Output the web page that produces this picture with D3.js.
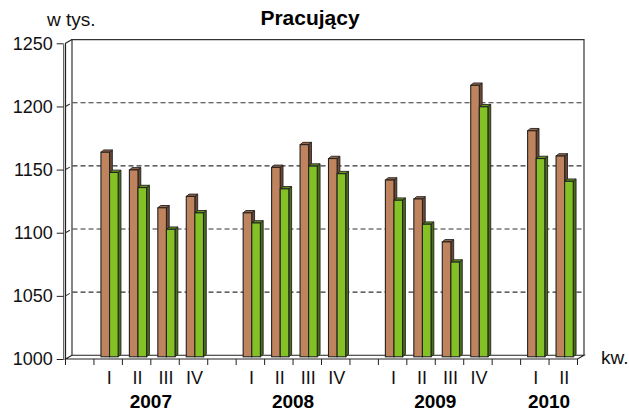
<!DOCTYPE html>
<html><head><meta charset="utf-8">
<script src="https://cdn.jsdelivr.net/npm/d3@7"></script>
<style>
html,body{margin:0;padding:0;background:#fff;}
svg{display:block;font-family:"Liberation Sans",Arial,sans-serif;}
</style></head>
<body><svg id="c" width="629" height="414"></svg>
<script>
// ---- data ----
const years = ["2007","2008","2009","2010"];
const quarters = [["I","II","III","IV"],["I","II","III","IV"],["I","II","III","IV"],["I","II"]];
const seriesBrown = [1162,1148,1118,1127, 1114,1150,1168,1157, 1140,1125,1091,1215, 1179,1159];
const seriesGreen = [1146,1134,1101,1114, 1106,1133,1151,1145, 1124,1105,1075,1198, 1157,1139];
const yTicks = [1000,1050,1100,1150,1200,1250];
const title = "Pracujący";
const yUnit = "w tys.";
const xUnit = "kw.";

// ---- build slots (gap before every year) ----
const slots = []; const cats = [];
years.forEach((y,i)=>{
  slots.push("gap"+i);
  quarters[i].forEach(q=>{ const k=y+"-"+q; slots.push(k); cats.push({key:k,year:y,q:q}); });
});
cats.forEach((c,i)=>{ c.brown=seriesBrown[i]; c.green=seriesGreen[i]; });

const svg = d3.select("#c");
// depth offset of the 3D box (front -> back)
const DX = 6.5, DY = -3.7;
const x = d3.scaleBand().domain(slots).range([65.5, 577.5]).paddingInner(0).paddingOuter(0);
const yFront = d3.scaleLinear().domain([1000,1250]).range([359, 43.3]);
const yBack = v => yFront(v) + DY;
const yBar = d3.scaleLinear().domain([1000,1250]).range([356.8, 41.1]);
const xL = x.range()[0], xR = x.range()[1];

// floor
svg.append("path")
  .attr("d", `M${xL},${yFront(1000)} L${xR},${yFront(1000)} L${xR+DX},${yBack(1000)} L${xL+DX},${yBack(1000)} Z`)
  .attr("fill","#fff").attr("stroke","#222").attr("stroke-width",1.1);
// back wall frame
svg.append("path")
  .attr("d", `M${xL+DX},${yBack(1000)} L${xL+DX},${yBack(1250)} L${xR+DX},${yBack(1250)} L${xR+DX},${yBack(1000)}`)
  .attr("fill","none").attr("stroke","#333").attr("stroke-width",1.2);
// side wall
svg.append("path")
  .attr("d", `M${xL},${yFront(1000)} L${xL},${yFront(1250)} L${xL+DX},${yBack(1250)}`)
  .attr("fill","none").attr("stroke","#222").attr("stroke-width",1.2);
svg.append("line").attr("x1",xL-1.8).attr("x2",xL-1.8).attr("y1",yFront(1250)+1).attr("y2",yFront(1000))
  .attr("stroke","#444").attr("stroke-width",1);

// gridlines on back wall + side wall
const grid = yTicks.filter(v=>v>1000 && v<1250);
svg.selectAll("path.grid").data(grid).join("path").attr("class","grid")
  .attr("d", v=>`M${xL},${yFront(v)} L${xL+DX},${yBack(v)} L${xR+DX},${yBack(v)}`)
  .attr("fill","none").attr("stroke","#333").attr("stroke-width",1.1).attr("stroke-dasharray","5,3");

// y axis
const yAxis = d3.axisLeft(yFront).tickValues(yTicks).tickSize(7).tickPadding(4).tickFormat(d3.format("d"));
const ya = svg.append("g").attr("transform",`translate(${xL-1.8},0)`).call(yAxis);
ya.select(".domain").remove();
ya.selectAll(".tick line").attr("stroke","#222");
ya.selectAll(".tick text").attr("font-size","18px").attr("fill","#111").attr("font-family","Liberation Sans, Arial, sans-serif");

// x ticks at slot boundaries
const bounds = slots.map(s=>x(s)).concat([xR]);
svg.selectAll("line.xt").data(bounds).join("line").attr("class","xt")
  .attr("x1",d=>d).attr("x2",d=>d).attr("y1",yFront(1000)).attr("y2",yFront(1000)+6)
  .attr("stroke","#222").attr("stroke-width",1);

// bars
const bw = 8.6, off = 7, bdx = 2.8, bdy = -2.3;
const styles = {
  brown:{front:"#BF845D", top:"#9A6645", side:"#6E4832"},
  green:{front:"#84C125", top:"#66961C", side:"#4A7015"}
};
function drawBar(g, x0, v, st){
  const yt = yBar(v), yb = yBar(1000);
  g.append("path").attr("d",`M${x0+bw},${yb} L${x0+bw},${yt} L${x0+bw+bdx},${yt+bdy} L${x0+bw+bdx},${yb+bdy} Z`)
    .attr("fill",st.side).attr("stroke","#222").attr("stroke-width",0.9).attr("stroke-linejoin","round");
  g.append("path").attr("d",`M${x0},${yt} L${x0+bdx},${yt+bdy} L${x0+bw+bdx},${yt+bdy} L${x0+bw},${yt} Z`)
    .attr("fill",st.top).attr("stroke","#222").attr("stroke-width",0.9).attr("stroke-linejoin","round");
  g.append("rect").attr("x",x0).attr("y",yt).attr("width",bw).attr("height",yb-yt)
    .attr("fill",st.front).attr("stroke","#222").attr("stroke-width",1.1);
}
const gb = svg.append("g");
cats.forEach(c=>{
  const x0 = x(c.key)+off;
  drawBar(gb, x0, c.brown, styles.brown);
  drawBar(gb, x0+bw, c.green, styles.green);
});

// quarter labels
svg.selectAll("text.q").data(cats).join("text").attr("class","q")
  .attr("x",c=>x(c.key)+x.bandwidth()/2+1).attr("y",383.5)
  .attr("text-anchor","middle").attr("font-size","18px").attr("fill","#111").text(c=>c.q);
// year labels
svg.selectAll("text.yr").data(years).join("text").attr("class","yr")
  .attr("x",(y,i)=>{ const ks=quarters[i].map(q=>y+"-"+q); return (x(ks[0])+x(ks[ks.length-1])+x.bandwidth())/2; })
  .attr("y",408).attr("text-anchor","middle").attr("font-size","19px").attr("font-weight","bold")
  .attr("fill","#000").text(d=>d);

// title and units
svg.append("text").attr("x",310).attr("y",25).attr("text-anchor","middle")
  .attr("font-size","21px").attr("font-weight","bold").attr("fill","#000").text(title);
svg.append("text").attr("x",47).attr("y",25.5).attr("font-size","19px").attr("fill","#111").text(yUnit);
svg.append("text").attr("x",601).attr("y",364).attr("font-size","19px").attr("fill","#111").text(xUnit);
</script></body></html>
